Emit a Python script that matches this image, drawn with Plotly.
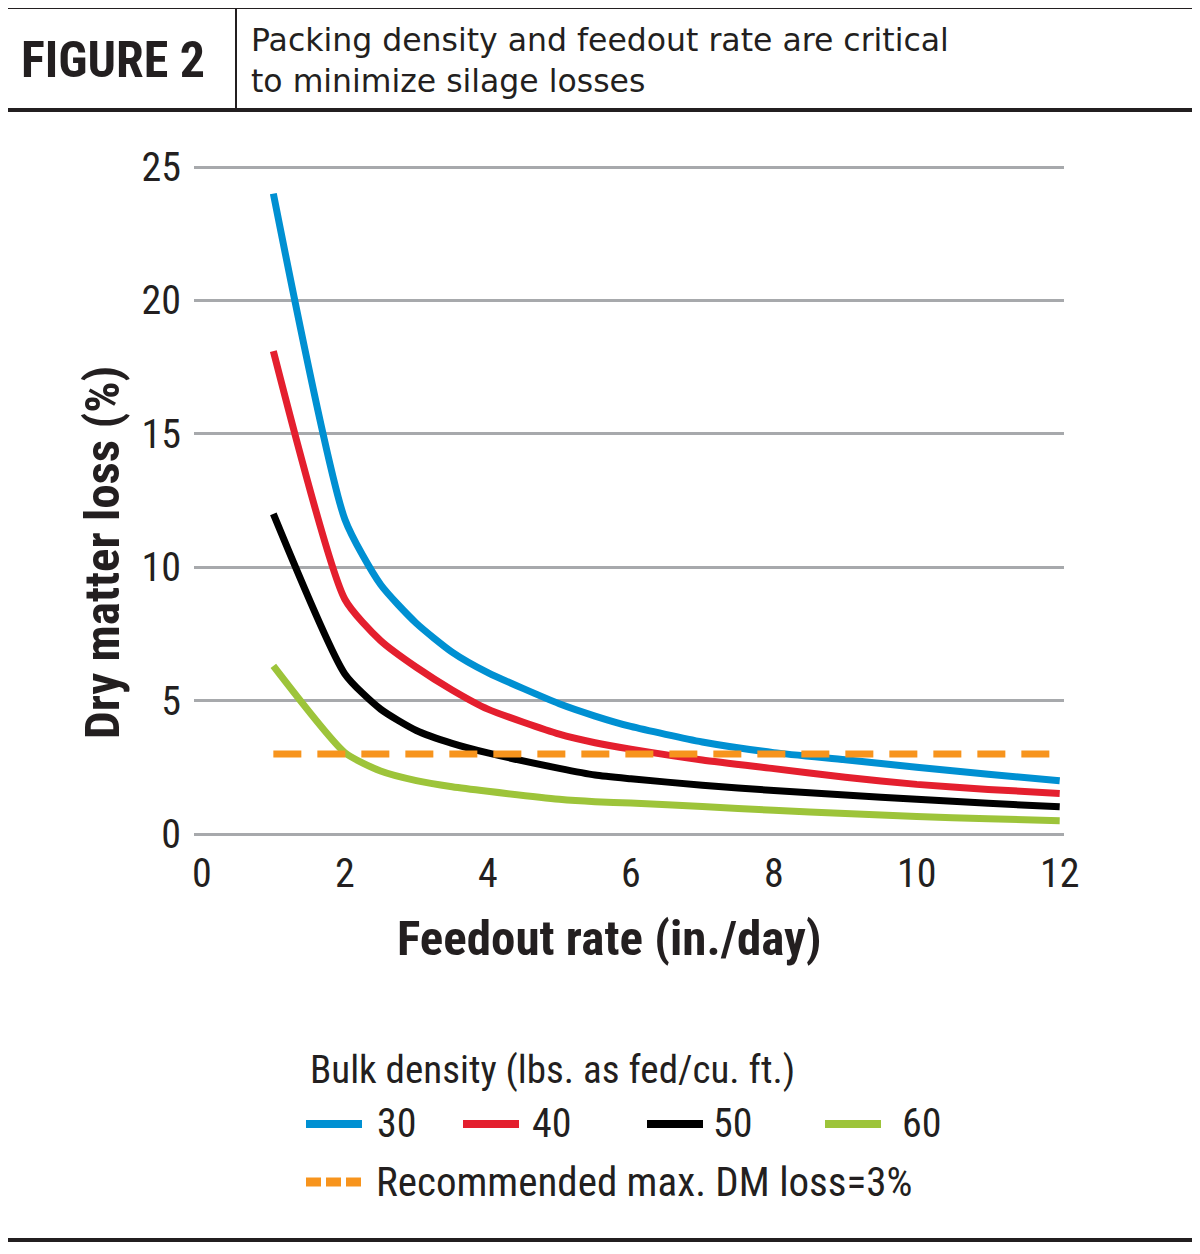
import plotly.graph_objects as go

# ---- data ----
feedout_rate = [1, 2, 2.5, 3, 3.5, 4, 5, 5.5, 6, 7, 8, 9, 10, 11, 12]
loss_30 = [24.0, 11.8, 9.35, 7.9, 6.82, 6.05, 4.88, 4.42, 4.03, 3.45, 3.05, 2.78, 2.5, 2.24, 2.0]
loss_40 = [18.1, 8.8, 7.25, 6.25, 5.4, 4.68, 3.74, 3.42, 3.18, 2.77, 2.45, 2.13, 1.86, 1.67, 1.52]
loss_50 = [12.0, 6.0, 4.68, 3.88, 3.4, 3.04, 2.46, 2.21, 2.07, 1.83, 1.63, 1.46, 1.3, 1.15, 1.02]
loss_60 = [6.3, 3.05, 2.36, 2.0, 1.77, 1.6, 1.3, 1.21, 1.16, 1.03, 0.89, 0.77, 0.66, 0.57, 0.5]
max_loss_x = [1, 12]
max_loss_y = [3, 3]
densities = ["30", "40", "50", "60"]
colors = ["#0090d2", "#e41f2e", "#000000", "#9dc43a"]
orange = "#f7941d"
x_ticks = [0, 2, 4, 6, 8, 10, 12]
y_ticks = [0, 5, 10, 15, 20, 25]

# page body has an 8px margin; figure fills the rest of the 1200x1254 window
OFF = 8
W, H = 1200 - 2 * OFF, 1254 - 2 * OFF
# plot-area edges in screen pixels
Ls, Rs, Ts, Bs = 194, 1064, 159, 842


def px(x):
    return (x - Ls) / (Rs - Ls)


def py(y):
    return (Bs - y) / (Bs - Ts)


NARROW = "Liberation Sans Narrow, Roboto Condensed, DejaVu Sans Condensed, Arial Narrow, sans-serif"
INK = "#231f20"

fig = go.Figure()
for vals, col, name in zip([loss_30, loss_40, loss_50, loss_60], colors, densities):
    fig.add_trace(go.Scatter(x=feedout_rate, y=vals, mode="lines", name=name,
                             line=dict(color=col, width=7, shape="spline", smoothing=0.6),
                             showlegend=False))
fig.add_trace(go.Scatter(x=max_loss_x, y=max_loss_y, mode="lines",
                         name="Recommended max. DM loss=3%",
                         line=dict(color=orange, width=7, dash="28px,16px"),
                         showlegend=False))

fig.update_layout(
    width=W, height=H,
    margin=dict(l=Ls - OFF, r=W - (Rs - OFF), t=Ts - OFF, b=H - (Bs - OFF)),
    paper_bgcolor="white", plot_bgcolor="white",
    xaxis=dict(range=[-0.11, 12.06], tickvals=x_ticks, showgrid=False, zeroline=False,
               showline=False, ticks="", ticklabelstandoff=4,
               tickfont=dict(family=NARROW, size=40, color=INK)),
    yaxis=dict(range=[-0.3, 25.3], tickvals=y_ticks, showgrid=True, gridcolor="#a7a9ac",
               gridwidth=2.5, zeroline=False, showline=False, ticks="",
               ticklabelstandoff=12,
               tickfont=dict(family=NARROW, size=40, color=INK)),
)

shapes = []
# header / footer rules
for yy in (7, 110, 1240):
    shapes.append(dict(type="line", xref="paper", yref="paper", x0=px(0), x1=px(1193),
                       y0=py(yy), y1=py(yy), line=dict(color=INK, width=4)))
shapes.append(dict(type="line", xref="paper", yref="paper", x0=px(236), x1=px(236), y0=py(8), y1=py(109),
                   line=dict(color=INK, width=2)))

ann = []
ann.append(dict(text="<b>FIGURE 2</b>", x=px(113), y=py(60), xref="paper", yref="paper",
                xanchor="center", yanchor="middle", showarrow=False,
                font=dict(family=NARROW, size=50, color=INK)))
ann.append(dict(text="Packing density and feedout rate are critical<br>to minimize silage losses",
                x=px(249), y=py(60), xref="paper", yref="paper", xanchor="left",
                yanchor="middle", align="left", showarrow=False,
                font=dict(family="DejaVu Sans, Open Sans, sans-serif", size=31.5, color=INK)))
# axis titles
ann.append(dict(text="Dry matter loss (%)", x=px(102), y=py(553), xref="paper", yref="paper",
                xanchor="center", yanchor="middle", textangle=-90, showarrow=False,
                font=dict(family=NARROW, size=49, color=INK, weight="bold")))
ann.append(dict(text="Feedout rate (in./day)", x=px(609), y=py(938), xref="paper", yref="paper",
                xanchor="center", yanchor="middle", showarrow=False,
                font=dict(family=NARROW, size=49, color=INK, weight="bold")))

# legend (manual)
ann.append(dict(text="Bulk density (lbs. as fed/cu. ft.)", x=px(308), y=py(1070), xref="paper", yref="paper",
                xanchor="left", yanchor="middle", showarrow=False,
                font=dict(family=NARROW, size=39, color=INK)))
sym_x = [306, 463, 647, 825]
txt_x = [375, 530, 711, 900]
for sx, tx, col, name in zip(sym_x, txt_x, colors, densities):
    shapes.append(dict(type="line", xref="paper", yref="paper", x0=px(sx), x1=px(sx + 56),
                       y0=py(1124), y1=py(1124), line=dict(color=col, width=8)))
    ann.append(dict(text=name, x=px(tx), y=py(1123), xref="paper", yref="paper",
                    xanchor="left", yanchor="middle", showarrow=False,
                    font=dict(family=NARROW, size=40, color=INK)))
for dx in [306, 326, 346]:
    shapes.append(dict(type="line", xref="paper", yref="paper", x0=px(dx), x1=px(dx + 15),
                       y0=py(1182), y1=py(1182), line=dict(color=orange, width=9)))
ann.append(dict(text="Recommended max. DM loss=3%", x=px(374), y=py(1182), xref="paper", yref="paper",
                xanchor="left", yanchor="middle", showarrow=False,
                font=dict(family=NARROW, size=41, color=INK)))

fig.update_layout(shapes=shapes, annotations=ann)
fig.write_html("out.html")
